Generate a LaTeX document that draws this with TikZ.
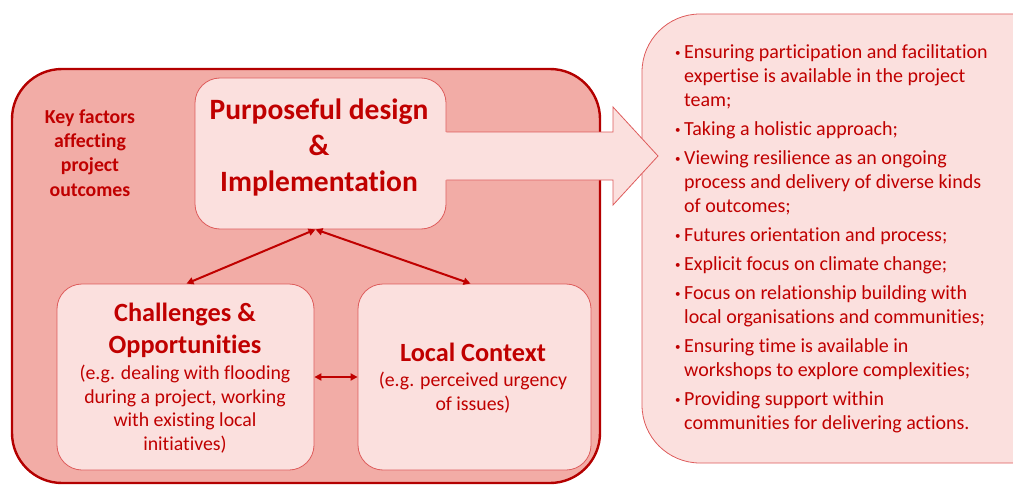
\documentclass[tikz,border=0pt]{standalone}
\usepackage{fontspec}
\setmainfont{Carlito}[Ligatures=NoCommon,RawFeature={-liga;-dlig}]
\usetikzlibrary{arrows.meta,calc}
\definecolor{txtred}{RGB}{192,0,0}
\definecolor{dred}{RGB}{180,0,0}
\definecolor{lred}{RGB}{222,92,92}
\definecolor{outerfill}{RGB}{242,172,166}
\definecolor{innerfill}{RGB}{251,224,222}
\newcommand{\mybul}{\makebox[8pt][l]{\hspace{-1pt}\fontsize{11}{11}\selectfont\raisebox{1.5pt}{•}}}
\newcommand{\myind}{\hspace*{8pt}}
\tikzset{
  outerbox/.style={draw=dred, line width=2.4pt, fill=outerfill, rounded corners=50pt, inner sep=0pt},
  innerbox/.style={draw=lred, line width=0.8pt, fill=innerfill, rounded corners=25pt, inner sep=0pt},
  rightbox/.style={draw=lred, line width=0.8pt, fill=innerfill, rounded corners=58pt, inner sep=0pt},
  conn/.style={draw=txtred, line width=2pt, {Triangle[length=7pt,width=7pt]}-{Triangle[length=7pt,width=7pt]}},
  toptxt/.style={text=txtred, font=\bfseries\fontsize{29.5}{36}\selectfont, align=center, inner sep=0pt},
  keytxt/.style={text=txtred, font=\bfseries\fontsize{19.8}{24.3}\selectfont, align=center, inner sep=0pt},
  headtxt/.style={text=txtred, font=\bfseries\fontsize{26.3}{32}\selectfont, align=center, inner sep=0pt},
  subtxt/.style={text=txtred, font=\fontsize{19.8}{23.4}\selectfont, align=center, inner sep=0pt},
  listtxt/.style={text=txtred, font=\fontsize{20}{24}\selectfont, align=left, inner sep=0pt},
}
\begin{document}
\begin{tikzpicture}[x=1pt,y=-1pt]
\useasboundingbox (0,0) rectangle (1013,487);
% boxes
\node[outerbox, minimum width=588pt, minimum height=414pt] (outer) at (306,276) {};
\node[rightbox, minimum width=430pt, minimum height=449pt] (right) at (857,238.5) {};
\node[innerbox, minimum width=251pt, minimum height=151pt] (top) at (320.5,153.5) {};
\node[innerbox, minimum width=257pt, minimum height=186pt] (chal) at (185.5,377) {};
\node[innerbox, minimum width=233pt, minimum height=186pt] (local) at (474.5,377) {};
% big arrow
\fill[innerfill] (445,132) -- (613,132) -- (613,107) -- (658,156) -- (613,205) -- (613,180) -- (445,180) -- cycle;
\draw[draw=lred, line width=0.8pt] (top.east |- 0,132) -- (613,132) -- (613,107) -- (658,156) -- (613,205) -- (613,180) -- (top.east |- 0,180);
% texts (anchor base = baseline of the last line)
\node[keytxt, anchor=base] (key) at (90,196) {Key factors\\affecting\\project\\outcomes};
\node[toptxt, anchor=base] (toplbl) at (319,191) {Purposeful design\\\&\\Implementation};
\node[headtxt, anchor=base] (chalhead) at (185,353) {Challenges \&\\Opportunities};
\node[subtxt, anchor=base] (chalsub) at (185,450) {(e.g. dealing with flooding\\during a project, working\\with existing local\\initiatives)};
\node[headtxt, anchor=base] (localhead) at (473,361) {Local Context};
\node[subtxt, anchor=base] (localsub) at (473,410) {(e.g. perceived urgency\\of issues)};
\node[listtxt, anchor=base west] (list) at (676,429) {%
\mybul Ensuring participation and facilitation\\
\myind expertise is available in the project\\
\myind team;\\[5pt]
\mybul Taking a holistic approach;\\[5pt]
\mybul Viewing resilience as an ongoing\\
\myind process and delivery of diverse kinds\\
\myind of outcomes;\\[5pt]
\mybul Futures orientation and process;\\[5pt]
\mybul Explicit focus on climate change;\\[5pt]
\mybul Focus on relationship building with\\
\myind local organisations and communities;\\[5pt]
\mybul Ensuring time is available in\\
\myind workshops to explore complexities;\\[5pt]
\mybul Providing support within\\
\myind communities for delivering actions.};
% connectors
\coordinate (apex) at ($(top.south)+(-5,0)$);
\draw[conn] (apex) -- ($(chal.north)+(1,0)$);
\draw[conn] (apex) -- ($(local.north)+(-4,0)$);
\draw[conn] (chal.east) -- (local.west);
\end{tikzpicture}
\end{document}
